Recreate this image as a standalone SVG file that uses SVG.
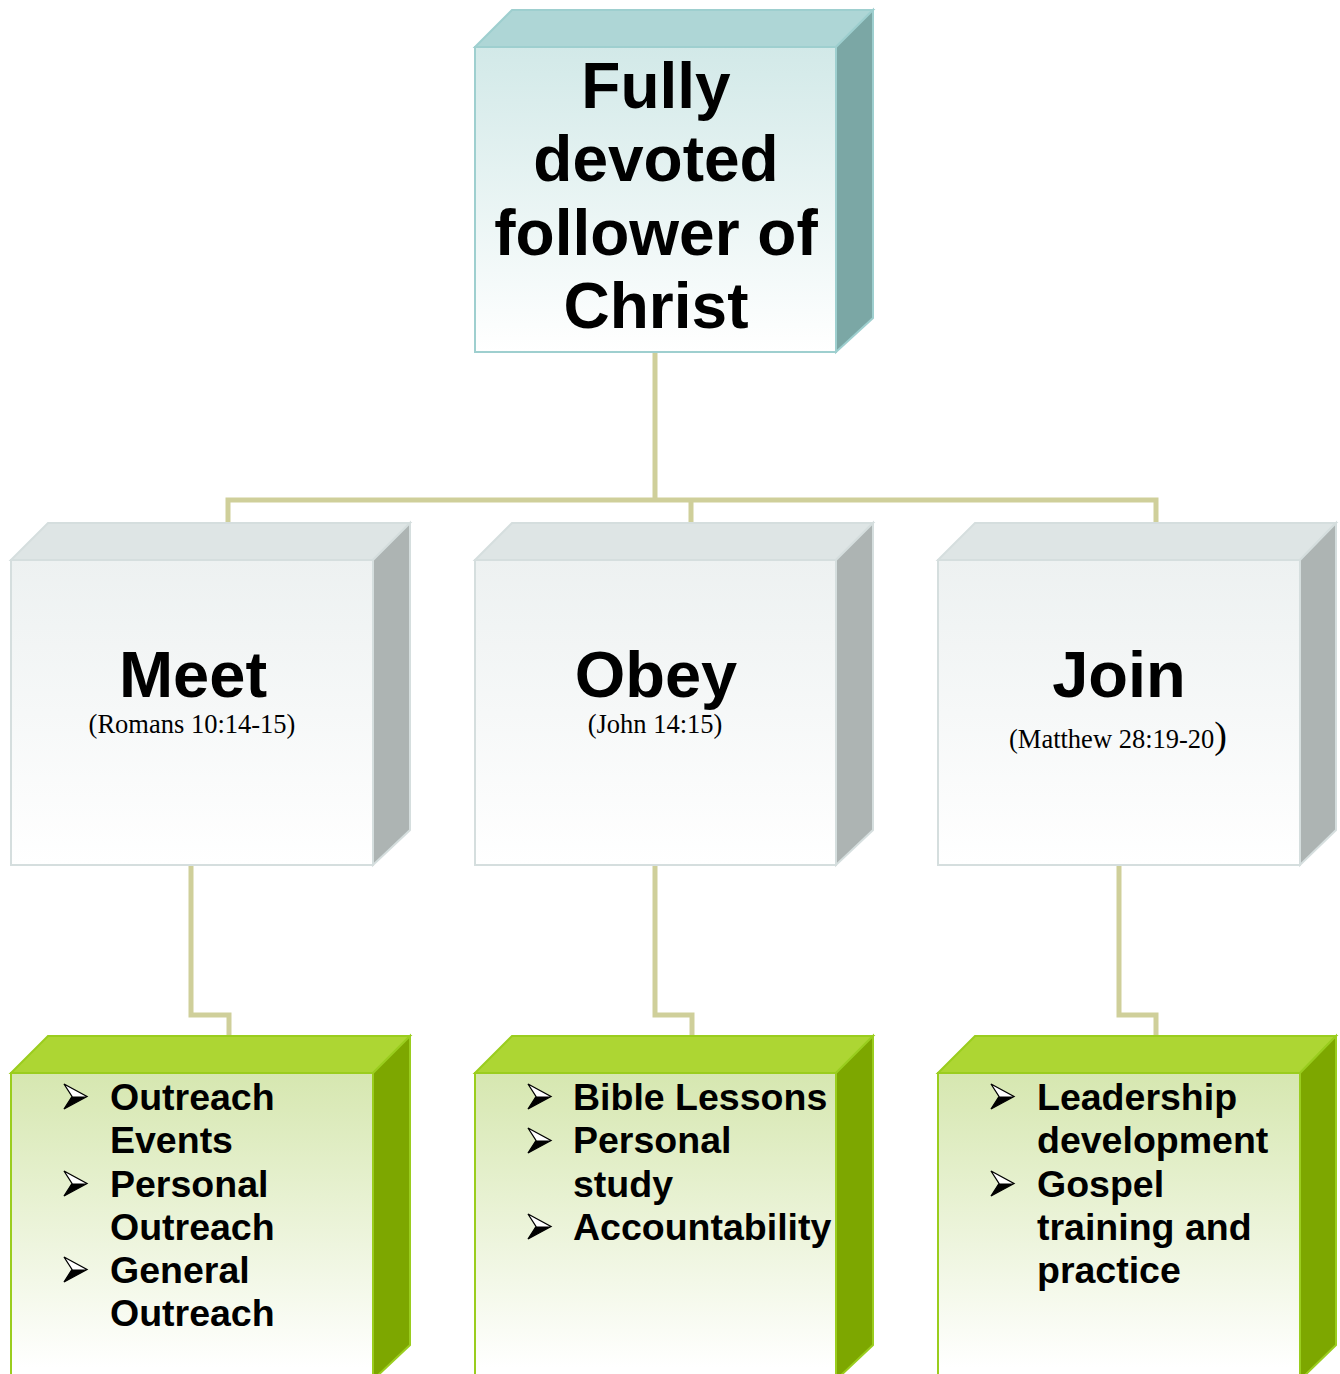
<svg xmlns="http://www.w3.org/2000/svg" width="1340" height="1374" viewBox="0 0 1340 1374">
<defs>
<linearGradient id="gTop" x1="0" y1="0" x2="0" y2="1"><stop offset="0" stop-color="#D2E9E8"/><stop offset="1" stop-color="#FFFFFF"/></linearGradient>
<linearGradient id="gMid" x1="0" y1="0" x2="0" y2="1"><stop offset="0" stop-color="#EDF1F1"/><stop offset="1" stop-color="#FFFFFF"/></linearGradient>
<linearGradient id="gBot" x1="0" y1="0" x2="0" y2="1"><stop offset="0" stop-color="#D6E7B0"/><stop offset="0.95" stop-color="#FFFFFF"/></linearGradient>
<g id="bul"><path d="M0,0 L23,12.5 L0,25 L8,12.5 Z" fill="#fff" stroke="#000" stroke-width="1.3" stroke-linejoin="miter"/><path d="M8,12.5 L23,12.5 L0,25 Z" fill="#000"/></g>
</defs>
<style>
.t1{font-family:"Liberation Sans",Arial,sans-serif;font-weight:bold;font-size:64px;fill:#000;text-anchor:middle}
.t2{font-family:"Liberation Sans",Arial,sans-serif;font-weight:bold;font-size:65px;fill:#000;text-anchor:middle}
.ref{font-family:"Liberation Serif","Times New Roman",serif;font-size:26.5px;fill:#000;text-anchor:middle}
.li{font-family:"Liberation Sans",Arial,sans-serif;font-weight:bold;font-size:37.5px;fill:#000}
.con{fill:none;stroke:#CFCF9A;stroke-width:5}
</style>
<g id="connectors">
<path class="con" d="M655,352 V500 M228,523 V500 H1156 V523 M691,500 V523"/>
<path class="con" d="M191,865 V1015 H229 V1036"/>
<path class="con" d="M655,865 V1015 H692 V1036"/>
<path class="con" d="M1119,865 V1015 H1156 V1036"/>
</g>
<g id="node-root">
<path d="M475,47 L512,10 L873,10 L836,47 Z" fill="#AED6D6" stroke="#9ECFCF" stroke-width="2"/>
<path d="M836,47 L873,10 L873,318 L836,352 Z" fill="#7BA7A5" stroke="#9ECFCF" stroke-width="2"/>
<rect x="475" y="47" width="361" height="305" fill="url(#gTop)" stroke="#9ECFCF" stroke-width="2"/>
<text class="t1" x="656" y="108">Fully</text>
<text class="t1" x="656" y="181">devoted</text>
<text class="t1" x="656" y="255">follower of</text>
<text class="t1" x="656" y="328">Christ</text>
</g>
<g id="node-meet">
<path d="M11,560 L48,523 L410,523 L373,560 Z" fill="#DEE5E5" stroke="#D5DEDE" stroke-width="2"/>
<path d="M373,560 L410,523 L410,830 L373,865 Z" fill="#ADB4B3" stroke="#D5DEDE" stroke-width="2"/>
<rect x="11" y="560" width="362" height="305" fill="url(#gMid)" stroke="#D5DEDE" stroke-width="2"/>
<text class="t2" x="193" y="697">Meet</text>
<text class="ref" x="192" y="733">(Romans 10:14-15)</text>
</g>
<g id="node-obey">
<path d="M475,560 L512,523 L873,523 L836,560 Z" fill="#DEE5E5" stroke="#D5DEDE" stroke-width="2"/>
<path d="M836,560 L873,523 L873,830 L836,865 Z" fill="#ADB4B3" stroke="#D5DEDE" stroke-width="2"/>
<rect x="475" y="560" width="361" height="305" fill="url(#gMid)" stroke="#D5DEDE" stroke-width="2"/>
<text class="t2" x="656" y="697">Obey</text>
<text class="ref" x="655" y="733">(John 14:15)</text>
</g>
<g id="node-join">
<path d="M938,560 L975,523 L1336,523 L1300,560 Z" fill="#DEE5E5" stroke="#D5DEDE" stroke-width="2"/>
<path d="M1300,560 L1336,523 L1336,830 L1300,865 Z" fill="#ADB4B3" stroke="#D5DEDE" stroke-width="2"/>
<rect x="938" y="560" width="362" height="305" fill="url(#gMid)" stroke="#D5DEDE" stroke-width="2"/>
<text class="t2" x="1119" y="697">Join</text>
<text class="ref" x="1118" y="748">(Matthew 28:19-20<tspan font-size="38px">)</tspan></text>
</g>
<g id="node-meet-list">
<path d="M11,1073 L48,1036 L410,1036 L373,1073 Z" fill="#ADD633" stroke="#9ACD1E" stroke-width="2"/>
<path d="M373,1073 L410,1036 L410,1345 L373,1380 Z" fill="#7DA700" stroke="#9ACD1E" stroke-width="2"/>
<rect x="11" y="1073" width="362" height="310" fill="url(#gBot)" stroke="#9ACD1E" stroke-width="2"/>
<use href="#bul" x="64" y="1084"/>
<use href="#bul" x="64" y="1171"/>
<use href="#bul" x="64" y="1257"/>
<text class="li" x="110" y="1110">Outreach</text>
<text class="li" x="110" y="1153">Events</text>
<text class="li" x="110" y="1197">Personal</text>
<text class="li" x="110" y="1240">Outreach</text>
<text class="li" x="110" y="1283">General</text>
<text class="li" x="110" y="1326">Outreach</text>
</g>
<g id="node-obey-list">
<path d="M475,1073 L512,1036 L873,1036 L836,1073 Z" fill="#ADD633" stroke="#9ACD1E" stroke-width="2"/>
<path d="M836,1073 L873,1036 L873,1345 L836,1380 Z" fill="#7DA700" stroke="#9ACD1E" stroke-width="2"/>
<rect x="475" y="1073" width="361" height="310" fill="url(#gBot)" stroke="#9ACD1E" stroke-width="2"/>
<use href="#bul" x="528" y="1084"/>
<use href="#bul" x="528" y="1128"/>
<use href="#bul" x="528" y="1214"/>
<text class="li" x="573" y="1110">Bible Lessons</text>
<text class="li" x="573" y="1153">Personal</text>
<text class="li" x="573" y="1197">study</text>
<text class="li" x="573" y="1240">Accountability</text>
</g>
<g id="node-join-list">
<path d="M938,1073 L975,1036 L1336,1036 L1300,1073 Z" fill="#ADD633" stroke="#9ACD1E" stroke-width="2"/>
<path d="M1300,1073 L1336,1036 L1336,1345 L1300,1380 Z" fill="#7DA700" stroke="#9ACD1E" stroke-width="2"/>
<rect x="938" y="1073" width="362" height="310" fill="url(#gBot)" stroke="#9ACD1E" stroke-width="2"/>
<use href="#bul" x="991" y="1084"/>
<use href="#bul" x="991" y="1171"/>
<text class="li" x="1037" y="1110">Leadership</text>
<text class="li" x="1037" y="1153">development</text>
<text class="li" x="1037" y="1197">Gospel</text>
<text class="li" x="1037" y="1240">training and</text>
<text class="li" x="1037" y="1283">practice</text>
</g>
</svg>
